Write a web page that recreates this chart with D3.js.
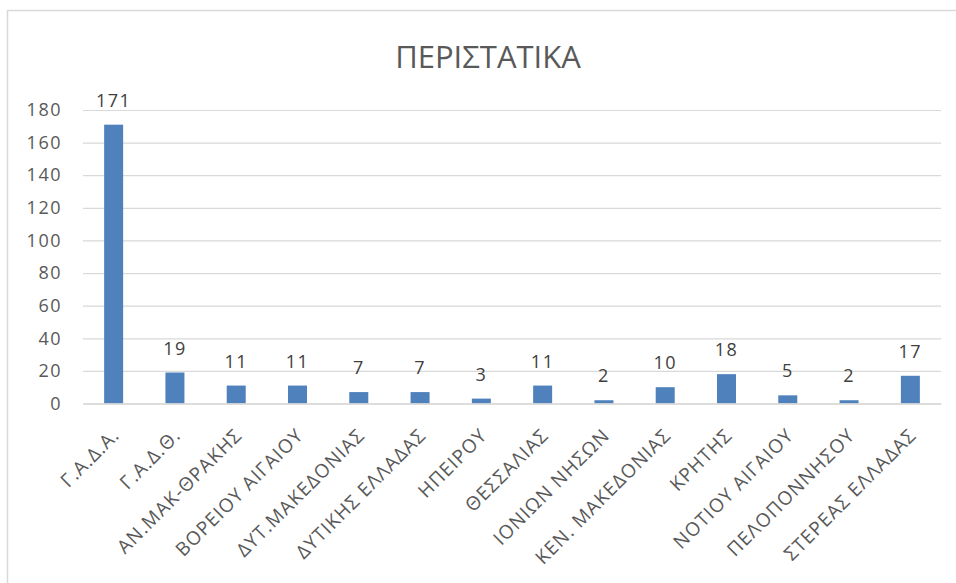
<!DOCTYPE html>
<html>
<head>
<meta charset="utf-8">
<script src="https://cdn.jsdelivr.net/npm/d3@7"></script>
<style>
  html, body { margin: 0; padding: 0; background: #fff; }
  svg { display: block; font-family: "Open Sans", "Noto Sans", sans-serif; }
</style>
</head>
<body>
<svg id="chart" width="956" height="583"></svg>
<script>
// Cases per regional directorate
const categories = [
  "Γ.Α.Δ.Α.", "Γ.Α.Δ.Θ.", "ΑΝ.ΜΑΚ-ΘΡΑΚΗΣ", "ΒΟΡΕΙΟΥ ΑΙΓΑΙΟΥ", "ΔΥΤ.ΜΑΚΕΔΟΝΙΑΣ",
  "ΔΥΤΙΚΗΣ ΕΛΛΑΔΑΣ", "ΗΠΕΙΡΟΥ", "ΘΕΣΣΑΛΙΑΣ", "ΙΟΝΙΩΝ ΝΗΣΩΝ", "ΚΕΝ. ΜΑΚΕΔΟΝΙΑΣ",
  "ΚΡΗΤΗΣ", "ΝΟΤΙΟΥ ΑΙΓΑΙΟΥ", "ΠΕΛΟΠΟΝΝΗΣΟΥ", "ΣΤΕΡΕΑΣ ΕΛΛΑΔΑΣ"
];
const values = [171, 19, 11, 11, 7, 7, 3, 11, 2, 10, 18, 5, 2, 17];
const yTicks = [0, 20, 40, 60, 80, 100, 120, 140, 160, 180];
const title = "ΠΕΡΙΣΤΑΤΙΚΑ";

const svg = d3.select("#chart");
const plot = { left: 83, right: 941, top: 110, bottom: 403.5 };

// outer chart frame
svg.append("rect")
  .attr("x", 7.5).attr("y", 10.5)
  .attr("width", 1000).attr("height", 1000)
  .attr("fill", "none").attr("stroke", "#d9d9d9").attr("stroke-width", 1.5);

svg.append("text")
  .attr("x", 488).attr("y", 68)
  .attr("text-anchor", "middle")
  .attr("font-size", 31)
  .attr("fill", "#595959")
  .text(title);

const x = d3.scaleBand()
  .domain(categories)
  .range([plot.left, plot.right])
  .paddingInner(0.69).paddingOuter(0.345);

const y = d3.scaleLinear()
  .domain([0, 180])
  .range([plot.bottom, plot.top]);

// gridlines and value axis
const yAxis = d3.axisLeft(y).tickValues(yTicks)
  .tickSize(-(plot.right - plot.left)).tickPadding(21);
const gy = svg.append("g")
  .attr("transform", `translate(${plot.left},0)`)
  .call(yAxis);
gy.select(".domain").remove();
gy.selectAll(".tick line").attr("stroke", "#d9d9d9").attr("stroke-width", 1.2);
gy.selectAll(".tick text")
  .attr("fill", "#595959").attr("font-size", 18)
  .attr("letter-spacing", 1.5)
  .attr("font-family", "Open Sans, sans-serif");

// bars
svg.append("g").selectAll("rect")
  .data(values)
  .join("rect")
  .attr("x", (d, i) => x(categories[i]))
  .attr("y", d => y(d))
  .attr("width", x.bandwidth())
  .attr("height", d => y(0) - y(d))
  .attr("fill", "#4f81bd");

// value labels
svg.append("g").selectAll("text")
  .data(values)
  .join("text")
  .attr("x", (d, i) => x(categories[i]) + x.bandwidth() / 2)
  .attr("y", d => y(d) - 18)
  .attr("text-anchor", "middle")
  .attr("font-size", 18)
  .attr("letter-spacing", 1.5)
  .attr("fill", "#404040")
  .text(d => d);

// category axis
const xAxis = d3.axisBottom(x).tickSize(0).tickPadding(0);
const gx = svg.append("g")
  .attr("transform", `translate(0,${plot.bottom})`)
  .call(xAxis);
gx.select(".domain").attr("stroke", "#d9d9d9").attr("stroke-width", 1.5);
gx.selectAll(".tick text")
  .attr("fill", "#595959").attr("font-size", 19)
  .attr("letter-spacing", 1.1)
  .attr("font-family", "Open Sans, sans-serif")
  .attr("text-anchor", "end")
  .attr("dy", 0)
  .attr("transform", "translate(7,33) rotate(-45)");
</script>
</body>
</html>
